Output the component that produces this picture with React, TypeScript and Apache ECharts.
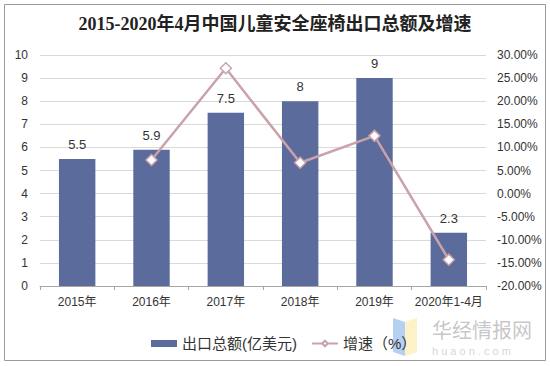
import React, { useEffect, useRef } from "react";
import * as echarts from "echarts";

const categories = ["2015年", "2016年", "2017年", "2018年", "2019年", "2020年1-4月"];
const exportValues = [5.5, 5.9, 7.5, 8, 9, 2.3];
const growthValues: (number | null)[] = [null, 7.27, 27.12, 6.67, 12.5, -14.3];
const titleText = "2015-2020年4月中国儿童安全座椅出口总额及增速";
const barName = "出口总额(亿美元)";
const lineName = "增速（%）";

export default function App() {
  const ref = useRef<HTMLDivElement>(null);
  useEffect(() => {
    if (!ref.current) return;
    document.body.style.margin = "0";
    const chart = echarts.init(ref.current, undefined, { renderer: "svg" });
    const labelFont = "Liberation Sans, Arial, Noto Sans CJK SC, sans-serif";
    chart.setOption({
      animation: false,
      backgroundColor: "#ffffff",
      title: {
        text: titleText,
        left: "center",
        top: 10,
        textStyle: {
          fontFamily: "Liberation Serif, DejaVu Serif, Noto Sans CJK SC, serif",
          fontWeight: "bold",
          fontSize: 18,
          color: "#222",
        },
      },
      grid: { left: 40, right: 64, top: 55, bottom: 80 },
      legend: {
        left: 146,
        top: 331,
        itemGap: 14,
        textStyle: { fontFamily: labelFont, fontSize: 15, color: "#333" },
        data: [{ name: barName, icon: "rect" }, { name: lineName }],
        itemWidth: 26,
        itemHeight: 7,
      },
      xAxis: {
        type: "category",
        data: categories,
        boundaryGap: true,
        axisLine: { show: true, lineStyle: { color: "#a6a6a6" } },
        axisTick: { show: true, alignWithLabel: false, length: 4, lineStyle: { color: "#a6a6a6" } },
        axisLabel: { fontFamily: labelFont, fontSize: 12, color: "#333", margin: 10, interval: 0 },
      },
      yAxis: [
        {
          type: "value",
          min: 0,
          max: 10,
          interval: 1,
          axisLine: { show: false },
          axisTick: { show: false },
          axisLabel: { fontFamily: labelFont, fontSize: 12, color: "#333", margin: 12 },
          splitLine: { lineStyle: { color: "#d9d9d9" } },
        },
        {
          type: "value",
          min: -20,
          max: 30,
          interval: 5,
          axisLine: { show: false },
          axisTick: { show: false },
          axisLabel: {
            fontFamily: labelFont,
            fontSize: 12,
            color: "#333",
            margin: 11,
            formatter: (v: number) => v.toFixed(2) + "%",
          },
          splitLine: { show: false },
        },
      ],
      series: [
        {
          name: barName,
          type: "bar",
          data: exportValues,
          barWidth: "49%",
          itemStyle: { color: "#5b6b9b" },
          label: {
            show: true,
            position: "top",
            distance: 8,
            fontFamily: labelFont,
            fontSize: 13,
            color: "#333",
          },
        },
        {
          name: lineName,
          type: "line",
          yAxisIndex: 1,
          data: growthValues,
          symbol: "diamond",
          symbolSize: 11,
          showSymbol: true,
          lineStyle: { color: "#c9a2aa", width: 2.5 },
          itemStyle: { color: "#ffffff", borderColor: "#c9a2aa", borderWidth: 1.5 },
        },
      ],
      graphic: [
        {
          type: "rect",
          shape: { x: 4.5, y: 4.5, width: 541, height: 356 },
          style: { fill: "none", stroke: "#9a9a9a", lineWidth: 1 },
          silent: true,
        },
        {
          type: "polygon",
          shape: { points: [[393, 318], [405, 322], [405, 356], [393, 352]] },
          style: { fill: "rgba(120,170,230,0.55)" },
          silent: true,
        },
        {
          type: "polygon",
          shape: { points: [[405, 322], [417, 318], [417, 352], [405, 356]] },
          style: { fill: "rgba(250,225,130,0.45)" },
          silent: true,
        },
        {
          type: "text",
          x: 432,
          y: 319,
          style: {
            text: "华经情报网",
            fontFamily: "Noto Sans CJK SC, sans-serif",
            fontSize: 20,
            fill: "rgba(150,150,150,0.55)",
          },
          silent: true,
        },
        {
          type: "text",
          x: 432,
          y: 345,
          style: {
            text: "h u a o n . c o m",
            fontFamily: labelFont,
            fontSize: 11,
            fill: "rgba(170,170,170,0.5)",
          },
          silent: true,
        },
      ],
    });
    return () => chart.dispose();
  }, []);
  return <div ref={ref} style={{ width: 550, height: 366 }} />;
}
